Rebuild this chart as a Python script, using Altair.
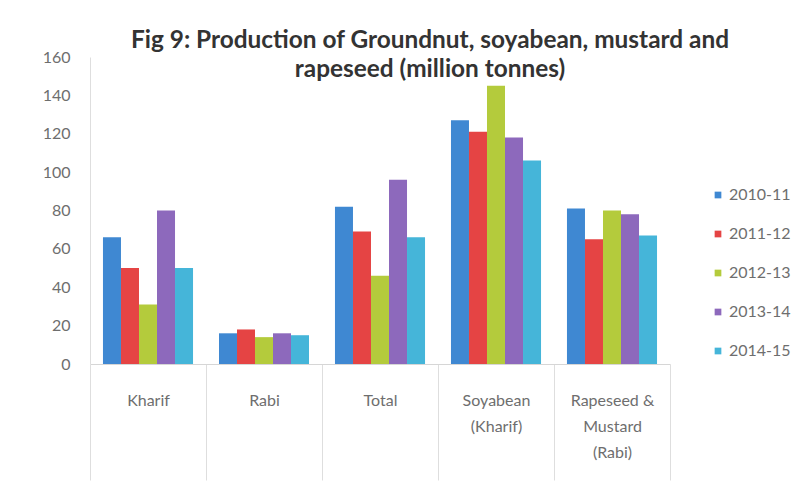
import altair as alt
import pandas as pd

categories = ["Kharif", "Rabi", "Total", "Soyabean\n(Kharif)", "Rapeseed &\nMustard\n(Rabi)"]
years = ["2010-11", "2011-12", "2012-13", "2013-14", "2014-15"]
values = {
    "2010-11": [66, 16, 82, 127, 81],
    "2011-12": [50, 18, 69, 121, 65],
    "2012-13": [31, 14, 46, 145, 80],
    "2013-14": [80, 16, 96, 118, 78],
    "2014-15": [50, 15, 66, 106, 67],
}
colors = ["#3F88D2", "#E54444", "#B4CB3C", "#8D69BC", "#45B5D9"]

rows = []
for y in years:
    for c, v in zip(categories, values[y]):
        rows.append({"Category": c, "Year": y, "Value": v})
df = pd.DataFrame(rows)

font = "Lato"
txt = "#6e6e6e"

chart = alt.Chart(df).mark_bar().encode(
    x=alt.X("Category:N", sort=categories, title=None,
            scale=alt.Scale(paddingInner=0, paddingOuter=0),
            axis=alt.Axis(labelAngle=0, labelExpr="split(datum.label, '\\n')",
                          labelFont=font, labelFontSize=16, labelColor=txt,
                          labelLineHeight=26, labelBaseline="top",
                          tickBand="extent", tickSize=116, tickColor="#dedede",
                          labelPadding=-88, domainColor="#d6d6d6")),
    xOffset=alt.XOffset("Year:N", sort=years, scale=alt.Scale(paddingOuter=0.72, paddingInner=0)),
    y=alt.Y("Value:Q", title=None,
            scale=alt.Scale(domain=[0, 160]),
            axis=alt.Axis(values=list(range(0, 161, 20)), grid=False, ticks=False,
                          labelFont=font, labelFontSize=16, labelColor=txt,
                          labelPadding=20, domainColor="#dedede")),
    color=alt.Color("Year:N", sort=years,
                    scale=alt.Scale(domain=years, range=colors),
                    legend=alt.Legend(title=None, orient="none", legendX=620, legendY=130,
                                      padding=0, symbolType="square", symbolSize=45,
                                      labelFont=font, labelFontSize=16, labelColor=txt,
                                      labelOffset=3, rowPadding=23, symbolStrokeWidth=0)),
).properties(
    width=580, height=307,
    title=alt.TitleParams(
        text=["Fig 9: Production of Groundnut, soyabean, mustard and", "rapeseed (million tonnes)"],
        font=font, fontSize=24.4, fontWeight="bold", color="#333333",
        anchor="middle", dx=50, offset=-33, lineHeight=29,
    ),
    autosize=alt.AutoSizeParams(type="none"),
    padding={"left": 82, "top": 49, "right": 127, "bottom": 126},
).configure(background="white").configure_view(stroke=None)

chart.save("out.html", embed_options={"renderer": "svg", "actions": False})
